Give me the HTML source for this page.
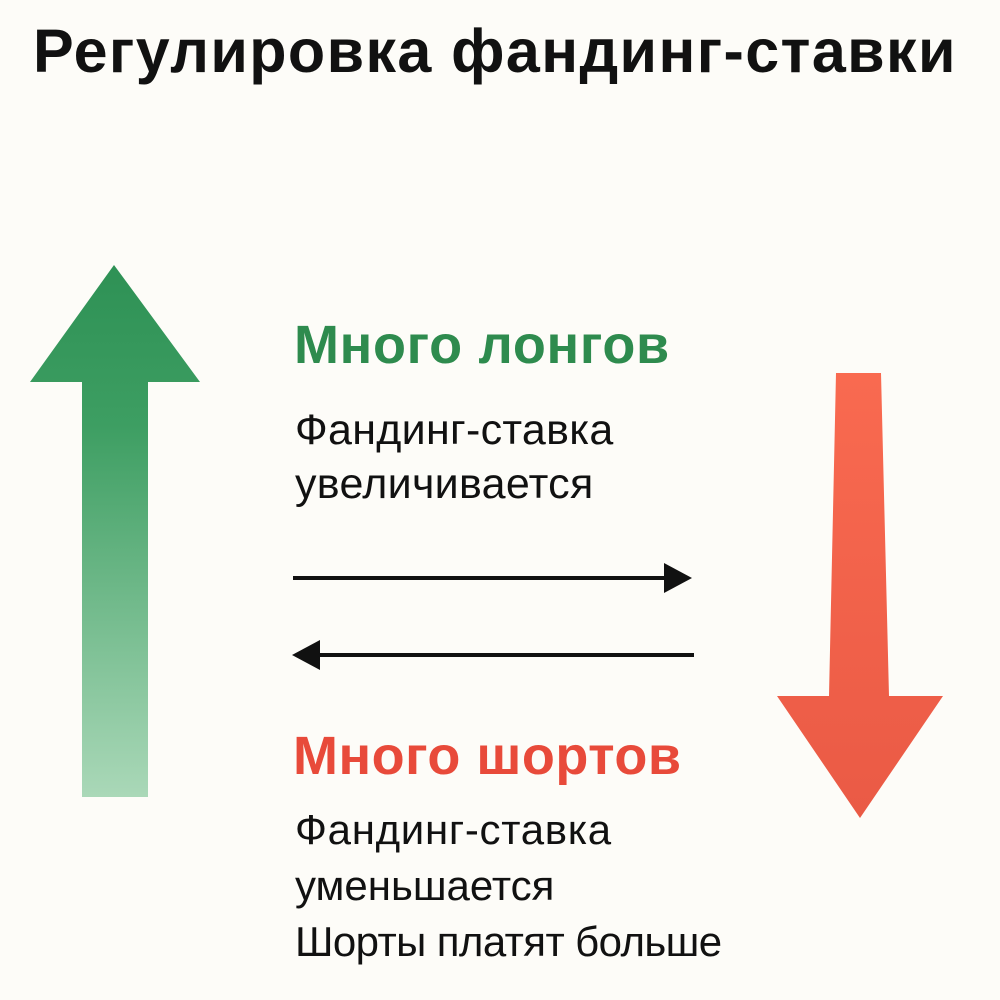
<!DOCTYPE html>
<html><head><meta charset="utf-8"><style>
body{margin:0;width:1000px;height:1000px;background:#fdfcf8;position:relative;overflow:hidden;font-family:"Liberation Sans","DejaVu Sans",sans-serif;}
.t{position:absolute;white-space:nowrap;}
</style></head><body>
<div class="t" style="left:33px;top:16px;font-size:61px;font-weight:bold;color:#111;letter-spacing:1.4px;">Регулировка фандинг-ставки</div>
<svg width="1000" height="1000" style="position:absolute;left:0;top:0">
<defs>
<linearGradient id="g" x1="0" y1="0" x2="0" y2="1">
<stop offset="0" stop-color="#2e9155"/><stop offset="0.3" stop-color="#3d9e62"/><stop offset="1" stop-color="#aad8b8"/></linearGradient>
<linearGradient id="r" x1="0" y1="0" x2="0" y2="1">
<stop offset="0" stop-color="#f96a50"/><stop offset="1" stop-color="#ea5a45"/></linearGradient>
</defs>
<polygon points="114,265 200,382 148,382 148,797 82,797 82,382 30,382" fill="url(#g)"/>
<polygon points="836,373 881,373 889,696 943,696 860,818 777,696 829,696" fill="url(#r)"/>
<line x1="293" y1="578" x2="672" y2="578" stroke="#111" stroke-width="4"/>
<polygon points="692,578 664,563 664,593" fill="#111"/>
<line x1="313" y1="655" x2="694" y2="655" stroke="#111" stroke-width="4"/>
<polygon points="292,655 320,640 320,670" fill="#111"/>
</svg>
<div class="t" style="left:294px;top:314px;font-size:54px;font-weight:bold;color:#2e8b4e;letter-spacing:0.7px;">Много лонгов</div>
<div class="t" style="left:295px;top:403px;font-size:43px;color:#111;line-height:54px;letter-spacing:0.3px;">Фандинг-ставка<br>увеличивается</div>
<div class="t" style="left:293px;top:725px;font-size:54px;font-weight:bold;color:#e84a3a;letter-spacing:0.5px;">Много шортов</div>
<div class="t" style="left:295px;top:802px;font-size:42px;color:#111;line-height:56px;"><span style="letter-spacing:0.7px">Фандинг-ставка</span><br>уменьшается<br><span style="letter-spacing:-0.6px">Шорты платят больше</span></div>
</body></html>
